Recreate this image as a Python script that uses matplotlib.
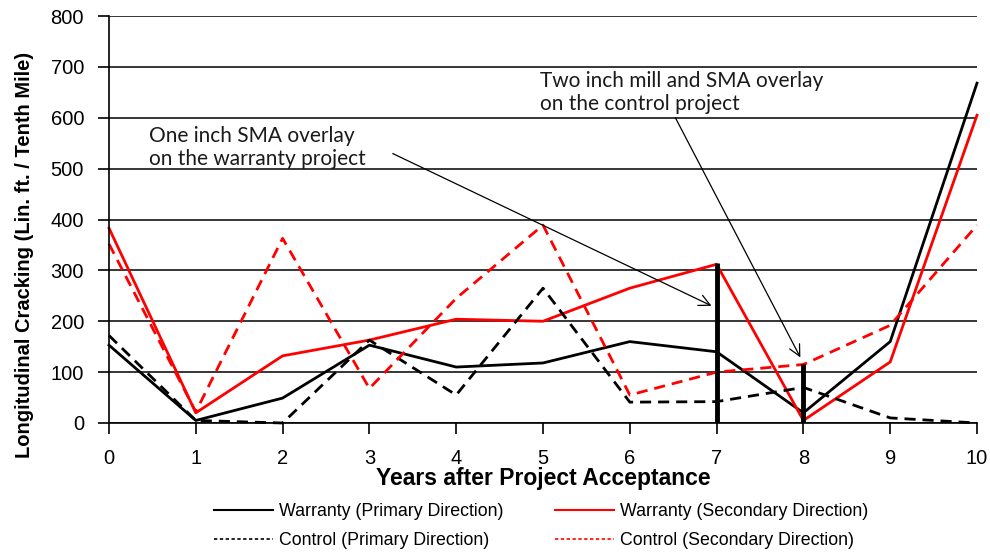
import matplotlib
matplotlib.use("Agg")
import matplotlib.pyplot as plt
from matplotlib.lines import Line2D

years = list(range(11))
warranty_primary = [153, 5, 49, 153, 110, 118, 160, 140, 20, 160, 668]
warranty_secondary = [383, 20, 132, 163, 204, 200, 265, 312, 5, 120, 605]
control_primary = [172, 5, 0, 163, 55, 265, 41, 42, 70, 10, 0]
control_secondary = [352, 22, 363, 68, 245, 389, 55, 100, 115, 192, 389]

series_labels = ["Warranty (Primary Direction)", "Warranty (Secondary Direction)",
                 "Control (Primary Direction)", "Control (Secondary Direction)"]

overlay_years = [7, 8]
overlay_heights = [314, 116]

note1 = "One inch SMA overlay\non the warranty project"
note1_xy = (6.97, 228)
note1_text = (0.46, 500)
note1_arrow_from = (3.24, 532)
note2 = "Two inch mill and SMA overlay\non the control project"
note2_xy = (7.98, 124)
note2_text = (4.965, 608)
note2_arrow_from = (6.51, 605)

y_ticks = list(range(0, 801, 100))

plt.rcParams['font.family'] = ['Liberation Sans', 'DejaVu Sans']

fig = plt.figure(figsize=(9.9, 5.53), dpi=100)
ax = fig.add_axes([109/990, 1-423/553, (977-109)/990, (423-16)/553])

ax.set_xlim(0, 10)
ax.set_ylim(0, 800)
ax.set_yticks(y_ticks)
ax.set_xticks(years)
ax.yaxis.grid(True, color='black', linewidth=1.1)
ax.set_axisbelow(True)
for s in ['top', 'right']:
    ax.spines[s].set_visible(False)
ax.spines['left'].set_linewidth(1.2)
ax.spines['bottom'].set_linewidth(1.2)
ax.tick_params(axis='both', direction='out', length=8, width=1.2, labelsize=14.5, colors='black')
ax.tick_params(axis='y', pad=10)
ax.tick_params(axis='x', pad=11)
ax.margins(0)

dash = (0, (4, 2.5))
l1, = ax.plot(years, warranty_primary, color='black', lw=2, clip_on=False)
l2, = ax.plot(years, warranty_secondary, color='#ff0000', lw=2, clip_on=False)
l3, = ax.plot(years, control_primary, color='black', lw=2, linestyle=dash, clip_on=False)
l4, = ax.plot(years, control_secondary, color='#ff0000', lw=2, linestyle=dash, clip_on=False)

ax.vlines(overlay_years, 0, overlay_heights, colors='black', linewidth=3.5, zorder=5)

ax.annotate("", xy=note1_xy, xytext=note1_arrow_from,
            arrowprops=dict(arrowstyle='->', color='black', lw=0.9, mutation_scale=20))
ax.annotate("", xy=note2_xy, xytext=note2_arrow_from,
            arrowprops=dict(arrowstyle='->', color='black', lw=0.9, mutation_scale=20))
ax.text(*note1_text, note1, fontsize=15, family=['Lato', 'DejaVu Sans'], va='bottom', ha='left',
        linespacing=1.15, color='#1a1a1a')
ax.text(*note2_text, note2, fontsize=15, family=['Lato', 'DejaVu Sans'], va='bottom', ha='left',
        linespacing=1.15, color='#1a1a1a')

ax.set_xlabel("Years after Project Acceptance", fontsize=16.5, fontweight='bold', labelpad=-1)
ax.set_ylabel("Longitudinal Cracking (Lin. ft. / Tenth Mile)", fontsize=14.5, fontweight='bold')
ax.yaxis.set_label_coords(-0.086, 0.413)

handles = [Line2D([], [], color='black', lw=1.5),
           Line2D([], [], color='#ff0000', lw=1.5),
           Line2D([], [], color='black', lw=1.2, linestyle=(0, (2, 1.5))),
           Line2D([], [], color='#ff0000', lw=1.2, linestyle=(0, (2, 1.5)))]
fig.legend([handles[0], handles[2], handles[1], handles[3]],
           [series_labels[0], series_labels[2], series_labels[1], series_labels[3]],
           ncol=2, loc='center', bbox_to_anchor=(541/990, 1-526/553), frameon=False,
           fontsize=12.8, handlelength=3.3, handletextpad=0.35, columnspacing=2.9,
           labelspacing=0.7)

fig.savefig("out.png", dpi=100)
